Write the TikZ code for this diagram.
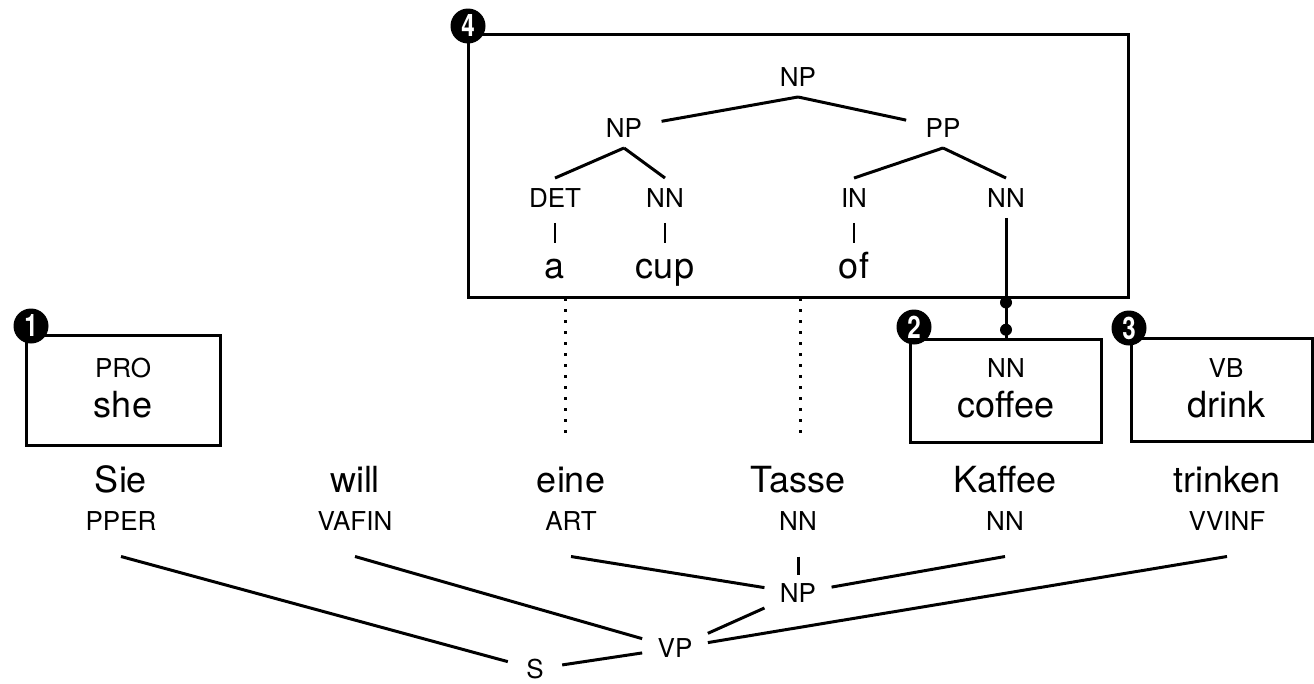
\documentclass[tikz,border=0pt]{standalone}
\usepackage{fontspec}
\setmainfont{TeX Gyre Heros}
\begin{document}
\begin{tikzpicture}[x=1pt,y=-1pt,
  line width=3pt,
  big/.style={font=\fontsize{36}{40}\selectfont, inner sep=0pt, anchor=base},
  tagl/.style={font=\fontsize{26}{30}\selectfont, inner sep=0pt, anchor=base, text depth=25pt},
  inb/.style={font=\fontsize{26}{30}\selectfont, inner sep=0pt, anchor=base},
  cat/.style={font=\fontsize{26}{30}\selectfont, inner xsep=14pt, inner ysep=7pt},
  tcat/.style={font=\fontsize{26}{30}\selectfont, inner xsep=18pt, inner ysep=9pt},
  twrd/.style={font=\fontsize{36}{40}\selectfont, inner sep=0pt, anchor=base, text height=27pt},
  boxn/.style={draw, line width=3pt, inner sep=0pt},
  marker/.style={circle, fill=black, minimum size=35pt, inner sep=0pt, text=white,
    font=\fontsize{31}{31}\selectfont\bfseries},
  bar/.style={line width=2pt, shorten <=5pt, shorten >=7pt},
  dotline/.style={line width=3pt, dash pattern=on 3pt off 8pt},
  dotn/.style={circle, fill=black, minimum size=12pt, inner sep=0pt}
]
\useasboundingbox (0,0) rectangle (1314,683);

% ---- boxes ----
\node[boxn, minimum width=194pt, minimum height=110pt] (box1) at (123,390) {};
\node[boxn, minimum width=191pt, minimum height=103pt] (box2) at (1006,390.5) {};
\node[boxn, minimum width=181pt, minimum height=103pt] (box3) at (1221.5,389.5) {};
\node[boxn, minimum width=660pt, minimum height=263pt] (box4) at (798,165.5) {};

% ---- box contents ----
\node[inb] (pro) at (123,377) {PRO};
\node[big] (she) at (123,417) {she};
\node[inb] (nnc) at (1006,377) {NN};
\node[big] (coffee) at (1006,417) {coffee};
\node[inb] (vb) at (1226,377) {VB};
\node[big] (drink) at (1226,417) {drink};

% ---- English tree ----
\node[tcat] (np0) at (798,77) {NP};
\node[tcat] (np1) at (624,128) {NP};
\node[tcat] (pp) at (943,128) {PP};
\node[tcat] (det) at (555,198) {DET};
\node[tcat] (nn1) at (665,198) {NN};
\node[tcat] (inn) at (854,198) {IN};
\node[tcat] (nn2) at (1006,198) {NN};
\node[twrd] (a) at (555,278) {a};
\node[twrd] (cup) at (665,278) {cup};
\node[twrd] (of) at (854,278) {of};

\draw (np0.south) -- (np1);
\draw (np0.south) -- (pp);
\draw (np1.south) -- (det.north);
\draw (np1.south) -- (nn1.north);
\draw (pp.south) -- (inn.north);
\draw (pp.south) -- (nn2.north);
\draw[bar] (det.south) -- (a.north);
\draw[bar] (nn1.south) -- (cup.north);
\draw[bar] (inn.south) -- (of.north);

% ---- German words ----
\node[big] (sie) at (121,492) {Sie};
\node[big] (will) at (355,492) {will};
\node[big] (eine) at (571,492) {eine};
\node[big] (tasse) at (798,492) {Tasse};
\node[big] (kaffee) at (1005,492) {Kaffee};
\node[big] (trinken) at (1227,492) {trinken};
\node[tagl] (pper) at (121,530) {PPER};
\node[tagl] (vafin) at (355,530) {VAFIN};
\node[tagl] (art) at (571,530) {ART};
\node[tagl] (nnt) at (798,530) {NN};
\node[tagl] (nnk) at (1005,530) {NN};
\node[tagl] (vvinf) at (1227,530) {VVINF};

% ---- German tree ----
\node[cat] (NP) at (798,593) {NP};
\node[cat] (VP) at (675,648) {VP};
\node[cat, inner xsep=17pt] (S) at (535,669) {S};

\draw (pper.south) -- (S);
\draw (vafin.south) -- (VP);
\draw (art.south) -- (NP);
\draw (nnt.south) -- (NP);
\draw (nnk.south) -- (NP);
\draw (vvinf.south) -- (VP);
\draw (NP) -- (VP);
\draw (VP) -- (S);

% ---- alignment links ----
\coordinate (da) at (565,298);
\coordinate (db) at (800,298);
\draw[dotline, shorten >=26pt] (da) -- (da |- eine.north);
\draw[dotline, shorten >=26pt] (db) -- (db |- tasse.north);
\draw (nn2.south) -- node[pos=0.707, dotn] {} node[pos=0.935, dotn] {} (box2.north);

% ---- markers ----
\node[marker] (m1) at (31,326) {\scalebox{0.78}[1]{1}};
\node[marker] (m2) at (914,327) {\scalebox{0.78}[1]{2}};
\node[marker] (m3) at (1129,328) {\scalebox{0.78}[1]{3}};
\node[marker] (m4) at (468,26) {\scalebox{0.78}[1]{4}};
\end{tikzpicture}
\end{document}
